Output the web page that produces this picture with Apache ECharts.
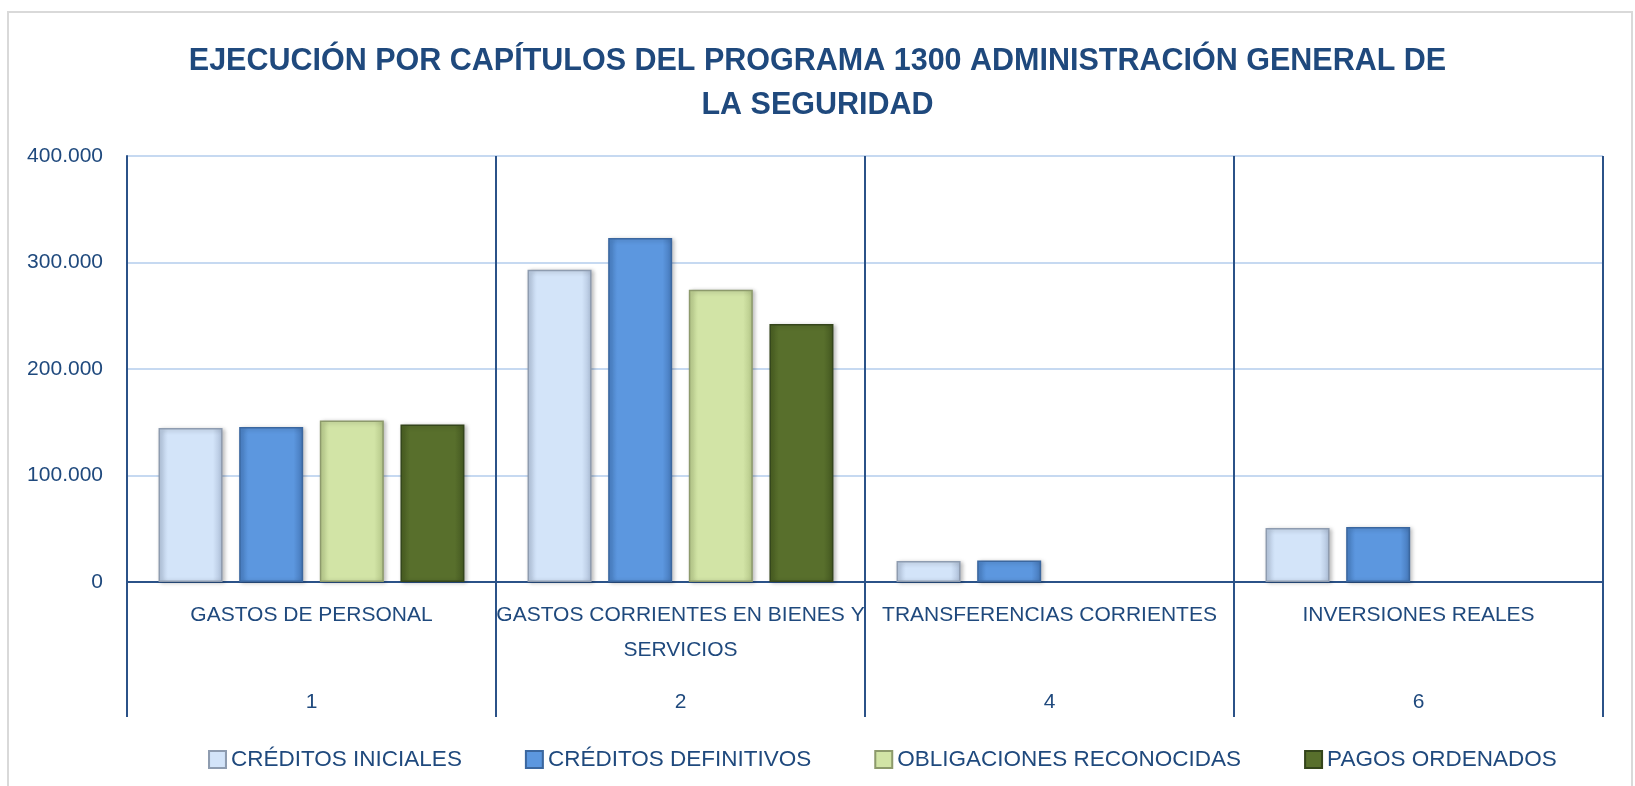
<!DOCTYPE html>
<html>
<head>
    <meta charset="utf-8">
    <title>Ejecución programa 1300</title>
    <script src="https://cdn.jsdelivr.net/npm/echarts@6/dist/echarts.min.js"></script>
    <style>
        html, body { margin: 0; padding: 0; background: #fff; }
        #main { width: 1635px; height: 786px; }
    </style>
</head>
<body>
<div id="main"></div>
<script type="text/javascript">
    // datos (miles de euros)
    var capitulos = ['GASTOS DE PERSONAL', 'GASTOS CORRIENTES EN BIENES Y\nSERVICIOS', 'TRANSFERENCIAS CORRIENTES', 'INVERSIONES REALES'];
    var numCapitulo = ['1', '2', '4', '6'];
    var creditosIniciales = [144600, 293200, 19700, 50700];
    var creditosDefinitivos = [145500, 323000, 20300, 51600];
    var obligacionesReconocidas = [151700, 274500, null, null];
    var pagosOrdenados = [148000, 242300, null, null];

    var azulTexto = '#1f497d';
    var azulEje = '#2b5288';
    var fuente = "'Liberation Sans', Arial, sans-serif";

    function degradado(c1, c2, c3) {
        return new echarts.graphic.LinearGradient(0, 0, 1, 0, [
            { offset: 0, color: c1 },
            { offset: 0.15, color: c2 },
            { offset: 0.85, color: c2 },
            { offset: 1, color: c3 }
        ]);
    }

    function serie(nombre, valores, relleno, borde) {
        return {
            name: nombre,
            type: 'bar',
            data: valores,
            barWidth: 64,
            barGap: '26%',
            itemStyle: {
                color: relleno,
                borderColor: borde,
                borderWidth: 1.5,
                shadowColor: 'rgba(0,0,0,0.25)',
                shadowBlur: 4,
                shadowOffsetX: 2,
                shadowOffsetY: 1
            }
        };
    }

    var myChart = echarts.init(document.getElementById('main'));
    var option = {
        animation: false,
        textStyle: { fontFamily: fuente },
        graphic: [{
            type: 'rect',
            shape: { x: 8, y: 12, width: 1624, height: 800 },
            style: { fill: 'none', stroke: '#d9d9d9', lineWidth: 2 },
            silent: true
        }],
        title: {
            text: 'EJECUCIÓN POR CAPÍTULOS DEL PROGRAMA 1300 ADMINISTRACIÓN GENERAL DE\nLA SEGURIDAD',
            left: 'center',
            top: 35,
            textStyle: {
                color: azulTexto,
                fontFamily: fuente,
                fontWeight: 'bold',
                fontSize: 30.5,
                lineHeight: 44
            }
        },
        legend: {
            left: 203,
            top: 743,
            icon: 'rect',
            itemWidth: 17,
            itemHeight: 17,
            itemGap: 63,
            textStyle: { color: azulTexto, fontSize: 22.5, fontFamily: fuente },
            data: ['CRÉDITOS INICIALES', 'CRÉDITOS DEFINITIVOS', 'OBLIGACIONES RECONOCIDAS', 'PAGOS ORDENADOS']
        },
        grid: {
            left: 127,
            right: 32,
            top: 156,
            bottom: 204
        },
        xAxis: [
            {
                type: 'category',
                data: capitulos,
                position: 'bottom',
                axisLine: { show: true, lineStyle: { color: azulEje, width: 2 } },
                axisTick: {
                    show: true,
                    interval: 0,
                    alignWithLabel: false,
                    length: 135,
                    lineStyle: { color: azulEje, width: 2 }
                },
                splitLine: { show: true, interval: 0, lineStyle: { color: azulEje, width: 2 } },
                axisLabel: {
                    interval: 0,
                    margin: 16,
                    color: azulTexto,
                    fontSize: 21,
                    lineHeight: 35,
                    fontFamily: fuente
                }
            },
            {
                type: 'category',
                data: numCapitulo,
                position: 'bottom',
                offset: 92,
                axisLine: { show: false },
                axisTick: { show: false },
                axisLabel: {
                    interval: 0,
                    margin: 16,
                    color: azulTexto,
                    fontSize: 21,
                    lineHeight: 25,
                    fontFamily: fuente
                }
            }
        ],
        yAxis: {
            type: 'value',
            min: 0,
            max: 400000,
            interval: 100000,
            axisLine: { show: true, lineStyle: { color: azulEje, width: 2 } },
            axisTick: { show: false },
            splitLine: { lineStyle: { color: '#c6d9f1', width: 2 } },
            axisLabel: {
                margin: 24,
                color: azulTexto,
                fontSize: 21,
                fontFamily: fuente,
                formatter: function (v) {
                    return String(v).replace(/\B(?=(\d{3})+(?!\d))/g, '.');
                }
            }
        },
        series: [
            serie('CRÉDITOS INICIALES', creditosIniciales, degradado('#b9cbe3', '#d3e4f9', '#aebfd8'), '#8e9cb0'),
            serie('CRÉDITOS DEFINITIVOS', creditosDefinitivos, degradado('#4a82c8', '#5c97df', '#4577b8'), '#3b679f'),
            serie('OBLIGACIONES RECONOCIDAS', obligacionesReconocidas, degradado('#bdd08f', '#d2e4a6', '#b3c587'), '#8d9a6c'),
            serie('PAGOS ORDENADOS', pagosOrdenados, degradado('#4a6022', '#586f2c', '#435720'), '#34451b')
        ]
    };
    myChart.setOption(option);
</script>
</body>
</html>
